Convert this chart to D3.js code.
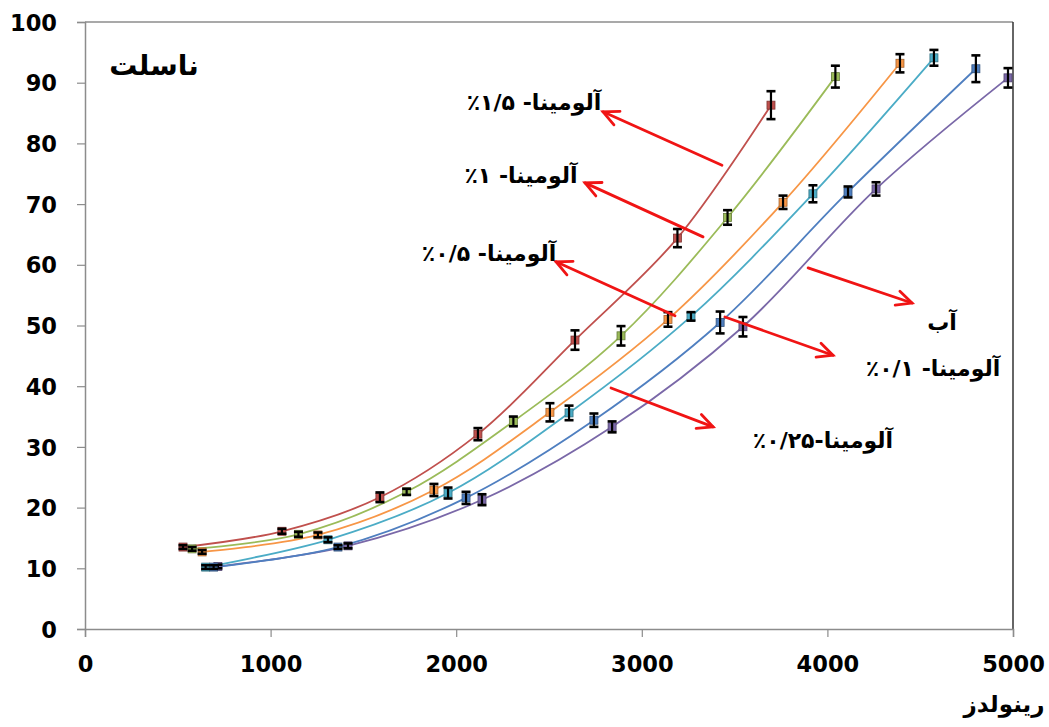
<!DOCTYPE html>
<html>
<head>
<meta charset="utf-8">
<script src="https://cdn.jsdelivr.net/npm/d3@7"></script>
<style>
  html, body { margin: 0; padding: 0; background: #fff; }
  svg { display: block; }
  .tick text { font-family: "DejaVu Sans", sans-serif; font-weight: bold; font-size: 22.5px; fill: #000; }
  .fa { font-family: "DejaVu Sans", sans-serif; font-weight: bold; direction: rtl; fill: #000; }
</style>
</head>
<body>
<svg id="chart" width="1049" height="727"></svg>
<script>
// Reynolds number vs. Nusselt number for water and alumina nanofluids
const seriesNames = ["آب", "آلومینا- ۰/۱٪", "آلومینا-۰/۲۵٪", "آلومینا- ۰/۵٪", "آلومینا- ۱٪", "آلومینا- ۱/۵٪"];
const seriesColors = ["#7a68a8", "#4f7fc0", "#4bacc6", "#f79646", "#9bbb59", "#c0504d"];

const reWater   = [716, 1417, 2139, 2840, 3545, 4262, 4973];
const nuWater   = [10.3, 13.7, 21.3, 33.3, 49.8, 72.5, 90.8];
const errWater  = [0.3, 0.4, 0.9, 0.9, 1.6, 1.1, 1.6];

const reAl010   = [693, 1363, 2053, 2742, 3422, 4111, 4800];
const nuAl010   = [10.2, 13.5, 21.6, 34.4, 50.5, 72.0, 92.3];
const errAl010  = [0.3, 0.3, 1.0, 1.1, 1.8, 0.9, 2.2];

const reAl025   = [650, 1309, 1956, 2608, 3265, 3922, 4574];
const nuAl025   = [10.2, 14.7, 22.4, 35.6, 51.5, 71.7, 94.1];
const errAl025  = [0.3, 0.4, 0.9, 1.2, 0.7, 1.4, 1.3];

const reAl050   = [631, 1255, 1880, 2505, 3141, 3761, 4391];
const nuAl050   = [12.7, 15.5, 22.9, 35.7, 51.0, 70.3, 93.2];
const errAl050  = [0.3, 0.4, 1.0, 1.5, 1.2, 1.1, 1.5];

const reAl100   = [577, 1150, 1733, 2308, 2888, 3462, 4043];
const nuAl100   = [13.2, 15.6, 22.6, 34.2, 48.3, 67.8, 91.0];
const errAl100  = [0.3, 0.4, 0.5, 0.8, 1.6, 1.2, 1.8];

const reAl150   = [528, 1061, 1589, 2117, 2640, 3192, 3696];
const nuAl150   = [13.5, 16.1, 21.7, 32.1, 47.6, 64.4, 86.3];
const errAl150  = [0.3, 0.4, 0.8, 1.0, 1.6, 1.5, 2.3];

const reSets  = [reWater, reAl010, reAl025, reAl050, reAl100, reAl150];
const nuSets  = [nuWater, nuAl010, nuAl025, nuAl050, nuAl100, nuAl150];
const errSets = [errWater, errAl010, errAl025, errAl050, errAl100, errAl150];

const xTicks = [0, 1000, 2000, 3000, 4000, 5000];
const yTicks = [0, 10, 20, 30, 40, 50, 60, 70, 80, 90, 100];

const yTitle = "ناسلت";
const xTitle = "رینولدز";

// Labelled arrows, in data units: tail [Re, Nu] and head [Re, Nu]
const arrowTails = [[3432, 76.4], [3330, 64.6], [3179, 51.6], [3448, 51.4], [3896, 59.5], [2834, 39.7]];
const arrowHeads = [[2791, 85.2], [2694, 73.5], [2538, 60.5], [4030, 45.1], [4456, 53.7], [3384, 33.3]];
// Series label centres [Re, Nu], one per series (same order as seriesNames)
const labelPos = [[4618, 50.6], [4569, 43.0], [3976, 31.1], [2177, 61.9], [2349, 74.8], [2419, 86.7]];

const svg = d3.select("#chart");
const x = d3.scaleLinear().domain([0, 5000]).range([85, 1013]);
const y = d3.scaleLinear().domain([0, 100]).range([629, 22]);

// Plot frame: gray top, dark right edge
svg.append("line").attr("x1", 85).attr("x2", 1013).attr("y1", y(100)).attr("y2", y(100))
  .attr("stroke", "#8c8c8c").attr("stroke-width", 1.5);
svg.append("line").attr("x1", 1013).attr("x2", 1013).attr("y1", y(100)).attr("y2", y(0))
  .attr("stroke", "#333").attr("stroke-width", 1.5);

// Axes
const xAxis = svg.append("g").attr("transform", `translate(0,${y(0)})`)
  .call(d3.axisBottom(x).tickValues(xTicks).tickSize(8).tickPadding(16).tickFormat(d3.format("d")));
const yAxis = svg.append("g").attr("transform", `translate(${x(0)},0)`)
  .call(d3.axisLeft(y).tickValues(yTicks).tickSize(8).tickPadding(20).tickFormat(d3.format("d")));
[xAxis, yAxis].forEach(a => {
  a.select(".domain").attr("stroke", "#8c8c8c").attr("stroke-width", 1.5);
  a.selectAll(".tick line").attr("stroke", "#8c8c8c").attr("stroke-width", 1.2);
});
xAxis.selectAll(".tick text").attr("dy", "0.85em");
yAxis.selectAll(".tick text").attr("dy", "0.36em");

// Fitted curves
const line = d3.line().x(d => x(d[0])).y(d => y(d[1])).curve(d3.curveCatmullRom.alpha(0.5));
const series = reSets.map((re, i) => re.map((r, j) => [r, nuSets[i][j], errSets[i][j]]));

svg.append("g").selectAll("path").data(series).join("path")
  .attr("d", d => line(d))
  .attr("fill", "none")
  .attr("stroke", (d, i) => seriesColors[i])
  .attr("stroke-width", 1.8);

// Markers with error bars
series.forEach((pts, i) => {
  const g = svg.append("g");
  g.selectAll("rect").data(pts).join("rect")
    .attr("x", d => x(d[0]) - 4).attr("y", d => y(d[1]) - 4)
    .attr("width", 8).attr("height", 8)
    .attr("fill", seriesColors[i])
    .attr("stroke", d3.color(seriesColors[i]).darker(1.2)).attr("stroke-width", 0.8);
  const eb = g.selectAll("g.err").data(pts).join("g").attr("class", "err");
  eb.append("line")
    .attr("x1", d => x(d[0])).attr("x2", d => x(d[0]))
    .attr("y1", d => y(d[1] + d[2])).attr("y2", d => y(d[1] - d[2]))
    .attr("stroke", "#000").attr("stroke-width", 2.2);
  eb.append("line")
    .attr("x1", d => x(d[0]) - 4.5).attr("x2", d => x(d[0]) + 4.5)
    .attr("y1", d => y(d[1] + d[2])).attr("y2", d => y(d[1] + d[2]))
    .attr("stroke", "#000").attr("stroke-width", 2.6);
  eb.append("line")
    .attr("x1", d => x(d[0]) - 4.5).attr("x2", d => x(d[0]) + 4.5)
    .attr("y1", d => y(d[1] - d[2])).attr("y2", d => y(d[1] - d[2]))
    .attr("stroke", "#000").attr("stroke-width", 2.6);
});

// Red arrows pointing to the labels
const arrows = svg.append("g").attr("stroke", "#f01414").attr("stroke-width", 2.8)
  .attr("fill", "none").attr("stroke-linecap", "round");
arrowTails.forEach((t, i) => {
  const h = arrowHeads[i];
  const x1 = x(t[0]), y1 = y(t[1]), x2 = x(h[0]), y2 = y(h[1]);
  arrows.append("line").attr("x1", x1).attr("y1", y1).attr("x2", x2).attr("y2", y2);
  const ang = Math.atan2(y1 - y2, x1 - x2);
  const L = 17, spread = 0.45;
  const p = a => [x2 + L * Math.cos(a), y2 + L * Math.sin(a)];
  const a1 = p(ang + spread), a2 = p(ang - spread);
  arrows.append("path").attr("d", `M${a1[0]},${a1[1]}L${x2},${y2}L${a2[0]},${a2[1]}`)
    .attr("stroke-linejoin", "miter");
});

// Series labels
svg.append("g").selectAll("text").data(seriesNames).join("text")
  .attr("class", "fa")
  .attr("x", (d, i) => x(labelPos[i][0]))
  .attr("y", (d, i) => y(labelPos[i][1]))
  .attr("text-anchor", "middle")
  .attr("dy", "0.35em")
  .attr("font-size", 22)
  .text(d => d);

// Axis titles
svg.append("text").attr("class", "fa").attr("x", 154).attr("y", 65)
  .attr("text-anchor", "middle").attr("dy", "0.35em").attr("font-size", 28).text(yTitle);
svg.append("text").attr("class", "fa").attr("x", 1004).attr("y", 704)
  .attr("text-anchor", "middle").attr("dy", "0.35em").attr("font-size", 23).text(xTitle);
</script>
</body>
</html>
